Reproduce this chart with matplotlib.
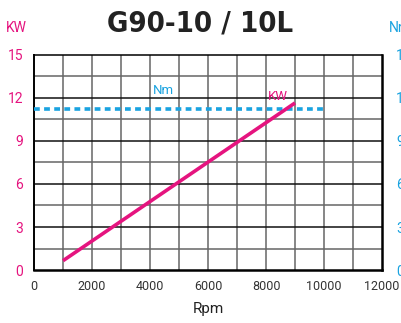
import matplotlib
matplotlib.use("Agg")
import matplotlib.pyplot as plt

# data
rpm_kw = [1000, 9000]
kw = [0.65, 11.65]
rpm_nm = [0, 10000]
nm = [11.25, 11.25]
x_ticks = [0, 2000, 4000, 6000, 8000, 10000, 12000]
y_ticks = [0, 3, 6, 9, 12, 15]

pink = "#e5147f"
blue = "#1aa3e0"

plt.rcParams["font.family"] = ["Roboto", "DejaVu Sans"]

fig = plt.figure(figsize=(4.02, 3.23), dpi=100)
ax = fig.add_axes([0.0846, 0.164, 0.8657, 0.666])

ax.set_xlim(0, 12000)
ax.set_ylim(0, 15)

# grid
for x in range(1000, 12000, 1000):
    ax.axvline(x, color="#666666", lw=1.1, zorder=1)
for i in range(1, 10):
    y = i * 1.5
    c = "#111111" if i % 2 == 0 else "#666666"
    ax.axhline(y, color=c, lw=1.1, zorder=1)

ax.plot(rpm_nm, nm, color=blue, lw=2.6, ls=(0, (1.6, 1.2)), zorder=3)
ax.plot(rpm_kw, kw, color=pink, lw=2.6, solid_capstyle="butt", zorder=4)

ax.text(4450, 12.5, "Nm", color=blue, fontsize=9.5, ha="center", va="center")
ax.text(8400, 12.1, "KW", color=pink, fontsize=9.5, ha="center", va="center")

for s in ax.spines.values():
    s.set_linewidth(1.8)
    s.set_color("black")
ax.spines["left"].set_linewidth(1.4)
ax.spines["top"].set_linewidth(1.1)

ax.set_xticks(x_ticks)
ax.set_xticklabels([str(v) for v in x_ticks], fontsize=9, color="#333333")
ax.set_yticks(y_ticks)
ax.set_yticklabels([str(v) for v in y_ticks], fontsize=10, color=pink)
ax.tick_params(length=0, pad=8)
ax.tick_params(axis="x", pad=7)

ax2 = ax.twinx()
ax2.set_ylim(0, 15)
ax2.set_yticks(y_ticks)
ax2.set_yticklabels([str(v) for v in y_ticks], fontsize=10, color=blue)
ax2.tick_params(length=0, pad=10)
for s in ax2.spines.values():
    s.set_visible(False)

ax.set_xlabel("Rpm", fontsize=11, color="#222222", labelpad=7)

fig.text(16 / 402, 1 - 28 / 323, "KW", color=pink, fontsize=10, ha="center", va="center")
fig.text(389 / 402, 1 - 28 / 323, "Nm", color=blue, fontsize=10, ha="left", va="center")
fig.text(200 / 402, 1 - 23 / 323, "G90-10 / 10L", fontsize=21, fontweight="bold",
         fontstretch="condensed", family=["DejaVu Sans"], ha="center", va="center",
         color="#222222")

fig.savefig("out.png", dpi=100)
